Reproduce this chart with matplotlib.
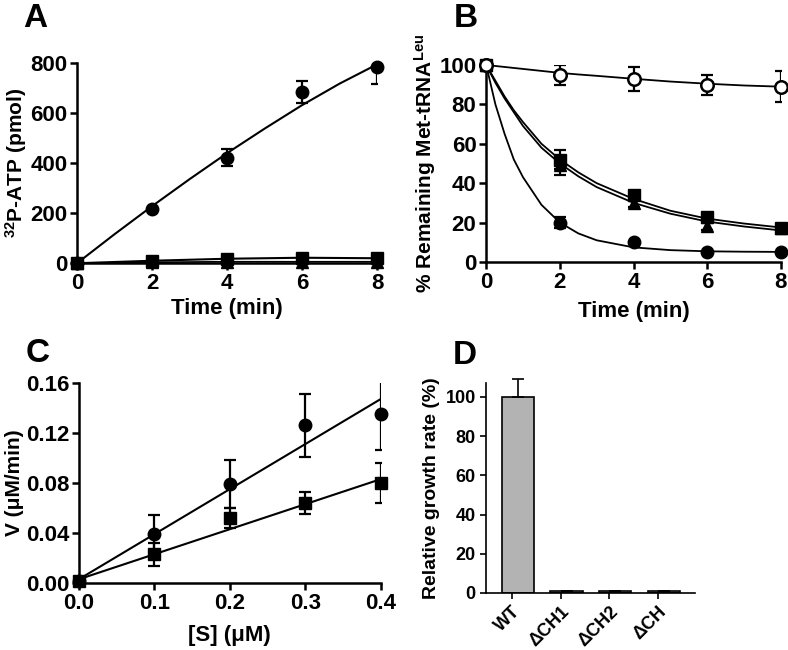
import numpy as np
import matplotlib
matplotlib.use('Agg')
import matplotlib.pyplot as plt

plt.rcParams['font.family'] = ['Liberation Sans', 'DejaVu Sans']
plt.rcParams['font.weight'] = 'bold'
plt.rcParams['axes.labelweight'] = 'bold'
plt.rcParams['mathtext.fontset'] = 'custom'
plt.rcParams['mathtext.rm'] = 'Liberation Sans:bold'
plt.rcParams['mathtext.bf'] = 'Liberation Sans:bold'
plt.rcParams['mathtext.it'] = 'Liberation Sans:bold'

### Panel A data ###
a_time = [0, 2, 4, 6, 8]
a_circle = [0, 218, 422, 685, 783]
a_circle_err = [0, 0, 33, 44, 65]
a_square = [0, 10, 18, 22, 20]
a_triangle = [0, 4, 6, 6, 6]
a_fit_t = [0, 1, 2, 3, 4, 5, 6, 7, 8]
a_fit_circle = [0, 116, 228, 336, 440, 538, 632, 718, 795]

### Panel B data ###
b_time = [0, 2, 4, 6, 8]
b_open = [100, 95, 93, 90, 89]
b_open_err = [0, 5, 6, 5, 8]
b_circle = [100, 20, 10, 5, 5]
b_circle_err = [0, 3, 0, 0, 0]
b_square = [100, 52, 34, 23, 17]
b_square_err = [0, 5, 2, 2, 1]
b_triangle = [100, 49, 30, 18, 17]
b_triangle_err = [0, 5, 2, 2, 1]
b_fit_t = [0, 0.25, 0.5, 0.75, 1, 1.5, 2, 2.5, 3, 4, 5, 6, 7, 8]
b_fit_open = [100, 99.5, 99, 98.5, 98, 97, 96, 95.2, 94.5, 93, 91.6, 90.5, 89.6, 89]
b_fit_circle = [100, 80, 65, 52, 43, 29, 20, 14.5, 11, 7.4, 6, 5.4, 5.2, 5.1]
b_fit_square = [100, 92, 84, 77, 71, 60, 52, 45.5, 40, 32, 26, 22, 19.5, 17.5]
b_fit_triangle = [100, 91, 83, 76, 69, 58, 50, 43.5, 38, 30, 24.5, 20.5, 18, 16]

### Panel C data ###
c_conc = [0, 0.1, 0.2, 0.3, 0.4]
c_circle = [0.002, 0.039, 0.079, 0.126, 0.135]
c_circle_err = [0, 0.015, 0.019, 0.025, 0.029]
c_square = [0.002, 0.023, 0.052, 0.064, 0.080]
c_square_err = [0, 0.009, 0.008, 0.009, 0.016]
c_fit_x = [0, 0.4]
c_fit_circle = [0.003, 0.147]
c_fit_square = [0.003, 0.083]

### Panel D data ###
d_strains = ['WT', 'ΔCH1', 'ΔCH2', 'ΔCH']
d_growth = [100, 1, 1, 1]
d_growth_err = [9, 0, 0, 0]

fig = plt.figure(figsize=(7.88, 6.5), dpi=100)
axA = fig.add_axes([0.0977, 0.595, 0.381, 0.308])
axB = fig.add_axes([0.617, 0.597, 0.374, 0.303])
axC = fig.add_axes([0.100, 0.103, 0.383, 0.308])
axD = fig.add_axes([0.617, 0.0877, 0.265, 0.323])

def style_axes(ax, fs=16):
    for s in ['top', 'right']:
        ax.spines[s].set_visible(False)
    for s in ['left', 'bottom']:
        ax.spines[s].set_linewidth(1.8)
    ax.tick_params(width=1.8, length=5, labelsize=fs, direction='out', pad=2)
    for lab in ax.get_xticklabels() + ax.get_yticklabels():
        lab.set_fontweight('bold')

eb_kw = dict(fmt='none', ecolor='black', elinewidth=1.6, capsize=4, capthick=1.6)
ms = 9

# A
axA.plot(a_fit_t, a_fit_circle, color='black', lw=1.5)
axA.plot(a_time, a_square, color='black', lw=1.5)
axA.plot(a_time, a_triangle, color='black', lw=1.2)
axA.errorbar(a_time, a_circle, yerr=a_circle_err, **eb_kw)
axA.plot(a_time, a_triangle, '^', color='black', ms=ms, clip_on=False, zorder=5)
axA.plot(a_time, a_square, 's', color='black', ms=ms, clip_on=False, zorder=5)
axA.plot(a_time, a_circle, 'o', color='black', ms=ms, clip_on=False, zorder=5)
axA.set_xlim(0, 8)
axA.set_ylim(0, 800)
axA.set_xticks([0, 2, 4, 6, 8])
axA.set_yticks([0, 200, 400, 600, 800])
axA.set_xlabel('Time (min)', fontsize=16, labelpad=3)
axA.set_ylabel('$^{32}$P-ATP (pmol)', fontsize=15, labelpad=1)
style_axes(axA)

# B
axB.plot(b_fit_t, b_fit_open, color='black', lw=1.3)
axB.plot(b_fit_t, b_fit_circle, color='black', lw=1.3)
axB.plot(b_fit_t, b_fit_square, color='black', lw=1.3)
axB.plot(b_fit_t, b_fit_triangle, color='black', lw=1.3)
axB.errorbar(b_time, b_open, yerr=b_open_err, **eb_kw)
axB.errorbar(b_time, b_circle, yerr=b_circle_err, **eb_kw)
axB.errorbar(b_time, b_square, yerr=b_square_err, **eb_kw)
axB.errorbar(b_time, b_triangle, yerr=b_triangle_err, **eb_kw)
axB.plot(b_time, b_triangle, '^', color='black', ms=ms, clip_on=False, zorder=5)
axB.plot(b_time, b_square, 's', color='black', ms=ms, clip_on=False, zorder=5)
axB.plot(b_time, b_circle, 'o', color='black', ms=ms, clip_on=False, zorder=5)
axB.plot(b_time, b_open, 'o', mfc='white', mec='black', mew=1.8, ms=ms, clip_on=False, zorder=5)
axB.set_xlim(0, 8)
axB.set_ylim(0, 100)
axB.set_xticks([0, 2, 4, 6, 8])
axB.set_yticks([0, 20, 40, 60, 80, 100])
axB.set_xlabel('Time (min)', fontsize=16, labelpad=6)
axB.set_ylabel('% Remaining Met-tRNA$^{\\mathrm{Leu}}$', fontsize=15, labelpad=1)
style_axes(axB)

# C
axC.plot(c_fit_x, c_fit_circle, color='black', lw=1.5)
axC.plot(c_fit_x, c_fit_square, color='black', lw=1.5)
axC.errorbar(c_conc, c_circle, yerr=c_circle_err, **eb_kw)
axC.errorbar(c_conc, c_square, yerr=c_square_err, **eb_kw)
axC.plot(c_conc, c_square, 's', color='black', ms=ms, clip_on=False, zorder=5)
axC.plot(c_conc, c_circle, 'o', color='black', ms=ms, clip_on=False, zorder=5)
axC.set_xlim(0, 0.4)
axC.set_ylim(0, 0.16)
axC.set_xticks([0, 0.1, 0.2, 0.3, 0.4])
axC.set_xticklabels(['0.0', '0.1', '0.2', '0.3', '0.4'])
axC.set_yticks([0, 0.04, 0.08, 0.12, 0.16])
axC.set_yticklabels(['0.00', '0.04', '0.08', '0.12', '0.16'])
axC.set_xlabel('[S] (μM)', fontsize=16, labelpad=8)
axC.set_ylabel('V (μM/min)', fontsize=15, labelpad=1)
style_axes(axC)

# D
pos = np.arange(len(d_strains))
bars = axD.bar(pos + 0.12, d_growth, width=0.66, color='#b3b3b3', edgecolor='black', linewidth=1.2,
               yerr=[[0] * len(d_growth), d_growth_err],
               error_kw=dict(ecolor='black', elinewidth=1.2, capsize=4, capthick=1.2))
for art in bars.errorbar.lines[1] + bars.errorbar.lines[2]:
    art.set_clip_on(False)
axD.set_xlim(-0.53, 3.76)
axD.set_ylim(0, 107)
axD.set_xticks(pos)
axD.set_xticklabels(d_strains, rotation=45, ha='right', rotation_mode='anchor', fontsize=13)
axD.set_yticks([0, 20, 40, 60, 80, 100])
axD.set_ylabel('Relative growth rate (%)', fontsize=14, labelpad=4)
for s in ['top', 'right']:
    axD.spines[s].set_visible(False)
for s in ['left', 'bottom']:
    axD.spines[s].set_linewidth(1.2)
axD.tick_params(width=1.2, length=4, labelsize=13)

# panel letters
fig.text(0.030, 0.958, 'A', fontsize=24, fontweight='bold')
fig.text(0.576, 0.958, 'B', fontsize=24, fontweight='bold')
fig.text(0.033, 0.443, 'C', fontsize=24, fontweight='bold')
fig.text(0.575, 0.440, 'D', fontsize=24, fontweight='bold')

fig.savefig('out.png', dpi=100)
